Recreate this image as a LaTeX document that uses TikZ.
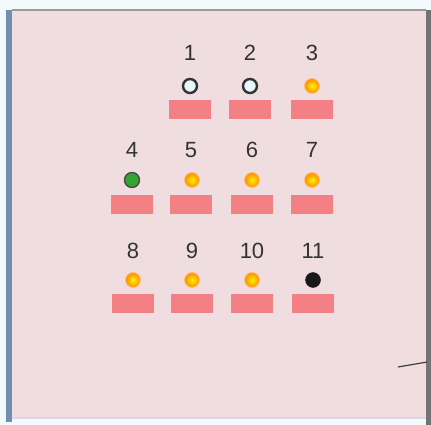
\documentclass[tikz,border=0pt]{standalone}
\usepackage{fontspec}
\setmainfont{Liberation Sans}
\begin{document}
\begin{tikzpicture}[x=1pt,y=-1pt,
  lbl/.style={font=\fontsize{22}{22}\selectfont, text=black!80, inner sep=0pt},
  bar/.style={fill=rectpink, draw=none, minimum width=42pt, minimum height=19pt, inner sep=0pt},
  dotbase/.style={circle, minimum size=15pt, inner sep=0pt},
  dotorange/.style={dotbase, inner color=yellow!90!orange, outer color=orange!90!yellow, draw=orange!50!white, line width=0.8pt},
  dotwhite/.style={dotbase, minimum size=14pt, fill=white!90!cyan, draw=black!80, line width=2.4pt},
  dotgreen/.style={dotbase, fill=green!55!black!80, draw=black!70, line width=1.4pt},
  dotblack/.style={dotbase, fill=black!90, draw=black!90}
]
\definecolor{rectpink}{HTML}{F38084}
\definecolor{panelpink}{HTML}{F0DDDF}
\definecolor{outside}{HTML}{F4F9FB}
\definecolor{leftblue}{HTML}{6F8FB3}
\definecolor{bottomline}{HTML}{E6D4E6}
\useasboundingbox (0,0) rectangle (431,425);
\fill[outside] (0,0) rectangle (431,425);
\fill[panelpink] (12,10) rectangle (426,418);
\fill[leftblue] (6,10) rectangle (12,422);
\draw[black!40, line width=2pt] (12,10) -- (426,10);
\fill[black!55] (426,10) rectangle (431,425);
\draw[bottomline, line width=1.5pt] (12,418) -- (426,418);

% row 1
\foreach \i/\x in {1/190,2/250,3/312}{
  \node[lbl] (l\i) at (\x,53) {\i};
  \node[bar] (b\i) at (\x,110) {};
}
\node[dotwhite] (d1) at (190,86) {};
\node[dotwhite] (d2) at (250,86) {};
\node[dotorange] (d3) at (312,86) {};
% row 2
\foreach \i/\x in {4/132,5/191,6/252,7/312}{
  \node[lbl] (l\i) at (\x,150) {\i};
  \node[bar] (b\i) at (\x,204) {};
}
\node[dotgreen] (d4) at (132,180) {};
\node[dotorange] (d5) at (192,180) {};
\node[dotorange] (d6) at (252,180) {};
\node[dotorange] (d7) at (312,180) {};
% row 3
\foreach \i/\x in {8/133,9/192,10/252,11/313}{
  \node[lbl] (l\i) at (\x,251) {\i};
  \node[bar] (b\i) at (\x,303) {};
}
\node[dotorange] (d8) at (133,280) {};
\node[dotorange] (d9) at (192,280) {};
\node[dotorange] (d10) at (252,280) {};
\node[dotblack] (d11) at (313,280) {};

\coordinate (ls) at (398,367);
\coordinate (le) at (427,362);
\draw[black!75, line width=1.2pt] (ls) -- (le);
\end{tikzpicture}
\end{document}
